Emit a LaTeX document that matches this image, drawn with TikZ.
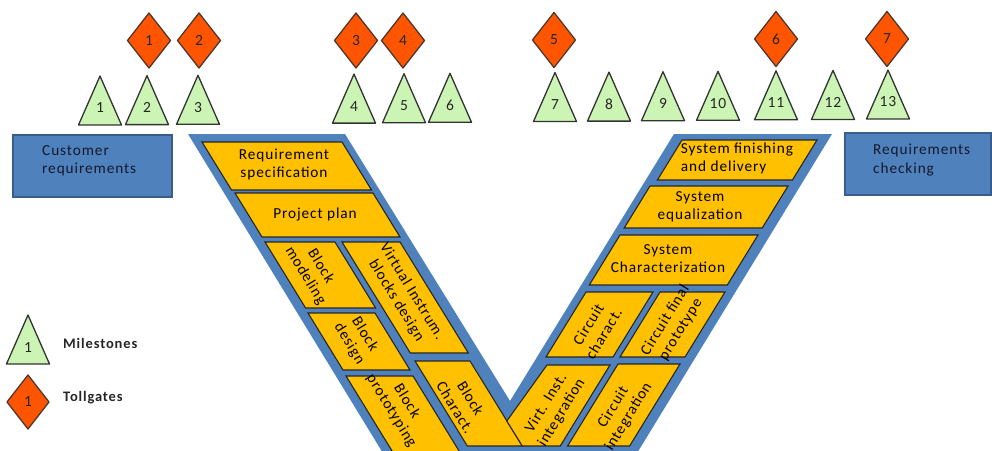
\documentclass[tikz,border=0pt]{standalone}
\usepackage{fontspec}
\setmainfont{Carlito}[LetterSpace=6.0]
\definecolor{vblue}{RGB}{79,129,189}
\definecolor{vblueedge}{RGB}{56,93,138}
\definecolor{vorange}{RGB}{255,192,0}
\definecolor{tgred}{RGB}{255,85,0}
\definecolor{tgedge}{RGB}{80,55,45}
\definecolor{msgreen}{RGB}{204,244,180}
\definecolor{txtdark}{RGB}{20,25,45}
\tikzset{
  blockshape/.style={fill=vorange, draw=black!85, line width=1.1pt, line join=miter},
  blocktext/.style={font=\fontsize{15.3}{18}\selectfont, text=black, align=center, inner sep=0pt},
  msshape/.style={fill=msgreen, draw=black!80, line width=1.3pt, line join=round},
  tgshape/.style={fill=tgred, draw=tgedge, line width=1.3pt, line join=round},
  numtext/.style={font=\fontsize{15.5}{17}\selectfont, inner sep=0pt, text=black!85},
  boxshape/.style={fill=vblue, draw=vblueedge, line width=1.5pt},
  boxtext/.style={font=\fontsize{15.3}{18.5}\selectfont, text=txtdark, align=left, inner sep=0pt, anchor=west},
  legtext/.style={font=\bfseries\fontsize{14.5}{17}\selectfont, inner sep=0pt, anchor=west, text=black!85},
}
\begin{document}
\begin{tikzpicture}[x=1pt,y=-1pt]
\useasboundingbox (0,0) rectangle (992,450);
\fill[white] (0,0) rectangle (992,450);
\clip (0,0) rectangle (992,450);

% V band
\fill[vblue] (188,134) -- (345,134) -- (510,401) -- (674,134) -- (832,134) -- (637.7,452) -- (382.3,452) -- cycle;

% left arm blocks
\draw[blockshape] (202,142) -- (342,142) -- (371.5,190) -- (231.5,190) -- cycle;
\draw[blockshape] (235,193) -- (373,193) -- (400,237) -- (262,237) -- cycle;
\draw[blockshape] (265,242) -- (335,242) -- (375.6,308) -- (305.6,308) -- cycle;
\draw[blockshape] (342,242) -- (400,242) -- (468.3,353) -- (410.3,353) -- cycle;
\draw[blockshape] (308,313) -- (375,313) -- (410,370) -- (343,370) -- cycle;
\draw[blockshape] (346,376) -- (413,376) -- (459.7,452) -- (392.7,452) -- cycle;
\draw[blockshape] (415,361) -- (470,361) -- (522.3,446) -- (467.3,446) -- cycle;

% right arm blocks
\draw[blockshape] (682,140) -- (817,140) -- (792.4,180) -- (657.4,180) -- cycle;
\draw[blockshape] (650,186) -- (788,186) -- (762.2,228) -- (624.2,228) -- cycle;
\draw[blockshape] (620,235) -- (758,235) -- (727.3,285) -- (589.3,285) -- cycle;
\draw[blockshape] (586,292) -- (653,292) -- (613,357) -- (546,357) -- cycle;
\draw[blockshape] (660,292) -- (725,292) -- (685,357) -- (620,357) -- cycle;
\draw[blockshape] (547,365) -- (610,365) -- (560.2,446) -- (522.3,446) -- (506.8,421) -- cycle;
\draw[blockshape] (618,364) -- (680,364) -- (629.6,446) -- (567.6,446) -- cycle;

% block texts
\node[blocktext] (reqspec) at (284,164) {Requirement\\specification};
\node[blocktext] (projplan) at (315,214) {Project plan};
\node[blocktext, rotate=-58.5] (blockmod) at (313,271) {Block\\modeling};
\node[blocktext, rotate=-58.5] (virtinstr) at (404,296) {Virtual Instrum.\\blocks design};
\node[blocktext, rotate=-58.5] (blockdes) at (357,339) {Block\\design};
\node[blocktext, rotate=-58.5] (blockproto) at (399,406) {Block\\prototyping};
\node[blocktext, rotate=-58.5] (blockchar) at (463,403) {Block\\Charact.};

\node[blocktext, align=left] (sysfin) at (737,158) {System finishing\\and delivery};
\node[blocktext] (syseq) at (700,207) {System\\equalization};
\node[blocktext] (syschar) at (668,259) {System\\Characterization};
\node[blocktext, rotate=58.5] (circchar) at (596,329) {Circuit\\charact.};
\node[blocktext, rotate=58.5] (circfin) at (673,325) {Circuit final\\prototype};
\node[blocktext, rotate=58.5] (virtint) at (554,408) {Virt. Inst.\\integration};
\node[blocktext, rotate=58.5] (circint) at (621,412) {Circuit\\integration};

% side boxes
\draw[boxshape] (13,135) rectangle (172,197);
\node[boxtext] (custreq) at (42,161) {Customer\\requirements};
\draw[boxshape] (845,133) rectangle (991,195);
\node[boxtext] (reqcheck) at (873,160) {Requirements\\checking};

% milestones
\foreach \i/\x/\yb in {1/100/125, 2/147/124.6, 3/198/124.3, 4/354/123.1, 5/404/122.7, 6/450/122.3, 7/555/121.5, 8/609/121.1, 9/663/120.7, 10/718/120.3, 11/776/119.8, 12/833/119.4, 13/888/119}{
  \draw[msshape] ({\x-21.5},\yb) -- (\x,{\yb-49}) -- ({\x+21.5},\yb) -- cycle;
  \node[numtext] (ms\i) at (\x,{\yb-17}) {\i};
}

% tollgates
\foreach \i/\x/\y in {1/149/40.5, 2/199/40.5, 3/356/40.5, 4/403/40.5, 5/554/40, 6/776/39, 7/887/39}{
  \draw[tgshape] ({\x-21.5},\y) -- (\x,{\y-27.5}) -- ({\x+21.5},\y) -- (\x,{\y+27.5}) -- cycle;
  \node[numtext] (tg\i) at (\x,\y) {\i};
}

% legend
\draw[msshape] (6.5,364) -- (28,315) -- (49.5,364) -- cycle;
\node[numtext] (legms) at (28,348) {1};
\node[legtext] (legmstext) at (63,343) {Milestones};
\draw[tgshape] (7,402) -- (28,375) -- (49,402) -- (28,429) -- cycle;
\node[numtext] (legtg) at (28,402) {1};
\node[legtext] (legtgtext) at (63,398) {Tollgates};
\end{tikzpicture}
\end{document}
